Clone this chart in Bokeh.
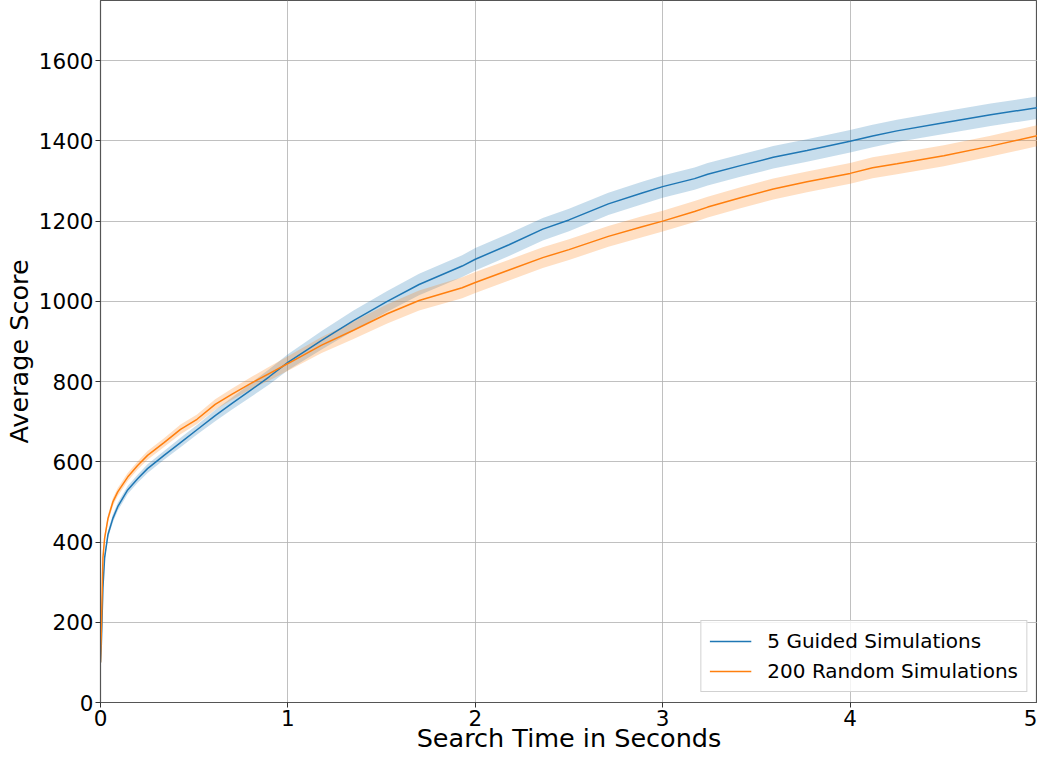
from bokeh.plotting import figure
from bokeh.models import ColumnDataSource, FixedTicker, Range1d
from bokeh.embed import file_html
from bokeh.resources import INLINE

# Data
time_s = [0, 0.004, 0.013, 0.022, 0.04, 0.066, 0.092, 0.145, 0.198, 0.251, 0.339, 0.427, 0.515,
          0.612, 0.7, 0.8, 0.9, 1.0, 1.18, 1.35, 1.53, 1.70, 1.93, 2.0, 2.18, 2.36, 2.5, 2.71,
          2.89, 3.0, 3.17, 3.24, 3.42, 3.59, 3.77, 4.0, 4.12, 4.25, 4.5, 4.75, 5.0]
guided_mean = [100, 139, 287, 361, 419, 459, 488, 530, 558, 583, 616, 648, 680,
               715, 745, 778, 812, 848, 903, 952, 1000, 1042, 1088, 1105, 1141, 1180, 1203, 1243,
               1270, 1286, 1306, 1317, 1339, 1359, 1376, 1399, 1412, 1425, 1445, 1465, 1483]
guided_err = [5, 7, 8, 9, 9, 10, 10, 10, 10, 11, 11, 12, 12,
              14, 15, 17, 19, 20, 23, 25, 26, 27, 27, 28, 28, 28, 28, 28,
              28, 28, 28, 28, 28, 28, 28, 28, 28, 28, 28, 28, 28]
random_mean = [100, 170, 361, 410, 459, 500, 525, 562, 591, 616, 648, 681, 706,
               743, 768, 795, 820, 845, 891, 928, 969, 1002, 1034, 1047, 1078, 1109, 1129, 1162,
               1186, 1200, 1224, 1235, 1259, 1280, 1298, 1319, 1333, 1343, 1363, 1387, 1413]
random_err = [5, 7, 8, 9, 9, 10, 10, 10, 10, 11, 11, 12, 12,
              13, 14, 15, 17, 18, 20, 22, 24, 25, 26, 26, 26, 26, 26, 26,
              26, 26, 26, 26, 26, 26, 26, 26, 26, 26, 26, 26, 26]
x_ticks = [0, 1, 2, 3, 4, 5]
y_ticks = [0, 200, 400, 600, 800, 1000, 1200, 1400, 1600]

BLUE = "#1f77b4"
ORANGE = "#ff7f0e"

src = ColumnDataSource(dict(
    x=time_s,
    g=guided_mean,
    g_lo=[m - e for m, e in zip(guided_mean, guided_err)],
    g_hi=[m + e for m, e in zip(guided_mean, guided_err)],
    r=random_mean,
    r_lo=[m - e for m, e in zip(random_mean, random_err)],
    r_hi=[m + e for m, e in zip(random_mean, random_err)],
))

p = figure(width=1037, height=755, output_backend="svg", toolbar_location=None,
           x_range=Range1d(0, 5), y_range=Range1d(0, 1750),
           min_border_left=88, min_border_right=0, min_border_top=0, min_border_bottom=40)

p.varea(x="x", y1="g_lo", y2="g_hi", source=src, fill_color=BLUE, fill_alpha=0.25)
p.varea(x="x", y1="r_lo", y2="r_hi", source=src, fill_color=ORANGE, fill_alpha=0.25)
p.line(x="x", y="g", source=src, line_color=BLUE, line_width=1.5, legend_label="5 Guided Simulations")
p.line(x="x", y="r", source=src, line_color=ORANGE, line_width=1.5, legend_label="200 Random Simulations")

p.outline_line_color = "#555555"
p.outline_line_width = 1.2

for ax in (p.xaxis[0], p.yaxis[0]):
    ax.axis_line_color = "#555555"
    ax.major_tick_line_color = "#333333"
    ax.major_tick_out = 5
    ax.major_tick_in = 0
    ax.minor_tick_line_color = None
    ax.major_label_text_font = "DejaVu Sans"
    ax.major_label_text_font_size = "21.5px"
    ax.major_label_text_color = "#000000"
    ax.major_label_standoff = 2
    ax.axis_label_text_font = "DejaVu Sans"
    ax.axis_label_text_font_size = "25.5px"
    ax.axis_label_text_font_style = "normal"
    ax.axis_label_text_color = "#000000"
    ax.axis_label_standoff = 2

p.xaxis.ticker = FixedTicker(ticks=x_ticks)
p.yaxis.ticker = FixedTicker(ticks=y_ticks)
p.xaxis.axis_label = "Search Time in Seconds"
p.yaxis.axis_label = "Average Score"
p.xaxis.axis_label_standoff = -6

p.grid.grid_line_color = "#b0b0b0"
p.grid.grid_line_alpha = 0.8
p.grid.grid_line_width = 1

lg = p.legend[0]
lg.location = "bottom_right"
lg.margin = 10
lg.padding = 8
lg.spacing = 6
lg.label_text_font = "DejaVu Sans"
lg.label_text_font_size = "20px"
lg.label_text_color = "#000000"
lg.label_height = 22
lg.glyph_width = 42
lg.label_standoff = 16
lg.border_line_color = "#cccccc"
lg.border_line_alpha = 0.9
lg.background_fill_alpha = 0.8

open("out.html", "w").write(file_html(p, INLINE))
